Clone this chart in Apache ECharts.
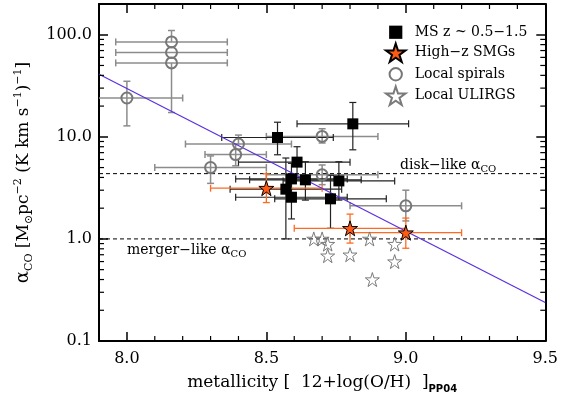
<!DOCTYPE html>
<html>
<head>
<meta charset="utf-8">
<script src="https://cdn.jsdelivr.net/npm/echarts@6/dist/echarts.min.js"></script>
<style>
html,body{margin:0;padding:0;background:#fff;}
#chart{width:561px;height:400px;}
</style>
</head>
<body>
<div id="chart"></div>
<script>
// ---- data ----
const msX   = [8.54, 8.81, 8.61, 8.59, 8.64, 8.76, 8.57, 8.59, 8.73];
const msY   = [9.85, 13.4, 5.65, 3.87, 3.79, 3.70, 3.07, 2.56, 2.47];
const msXlo = [8.34, 8.61, 8.40, 8.39, 8.44, 8.56, 8.37, 8.39, 8.53];
const msXhi = [8.74, 9.01, 8.80, 8.79, 8.84, 8.96, 8.77, 8.79, 8.93];
const msYlo = [6.67, 7.46, 4.0, 2.7, 2.4, 2.4, 1.0, 1.57, 1.27];
const msYhi = [13.9, 21.7, 8.0, 5.5, 5.7, 5.7, 6.2, 3.7, 4.2];

const smgX   = [8.50, 8.80, 9.00];
const smgY   = [3.14, 1.27, 1.15];
const smgXlo = [8.30, 8.60, 8.80];
const smgXhi = [8.70, 9.00, 9.20];
const smgYlo = [2.27, 0.91, 0.81];
const smgYhi = [4.34, 1.75, 1.60];

const spX   = [8.00, 8.16, 8.16, 8.16, 8.40, 8.39, 8.30, 8.70, 8.70, 9.00];
const spY   = [24.0, 85, 67, 53, 8.5, 6.7, 5.0, 10.1, 4.24, 2.11];
const spXlo = [7.80, 7.96, 7.96, 7.96, 8.21, 8.28, 8.10, 8.50, 8.50, 8.80];
const spXhi = [8.20, 8.36, 8.36, 8.36, 8.59, 8.50, 8.50, 8.90, 8.90, 9.20];
const spYlo = [12.8, 85, 67, 17.3, 8.5, 5.2, 3.5, 8.7, 3.4, 1.5];
const spYhi = [35.0, 110, 67, 53, 10.4, 8.5, 6.5, 12.0, 5.3, 3.0];

const ulX = [8.67, 8.70, 8.72, 8.72, 8.80, 8.87, 8.96, 8.96, 8.88];
const ulY = [1.0, 1.0, 0.89, 0.685, 0.70, 1.0, 0.89, 0.60, 0.40];

const fitX = [7.9, 9.5];
const fitY = [41, 0.238];

const diskAlpha = 4.36;
const mergerAlpha = 1.0;

const xRange = [7.9, 9.5];
const yRange = [0.1, 200];
const xMajor = [8.0, 8.5, 9.0, 9.5];
const xMinor = [8.1, 8.2, 8.3, 8.4, 8.6, 8.7, 8.8, 8.9, 9.1, 9.2, 9.3, 9.4];
const yMinor = [0.2,0.3,0.4,0.5,0.6,0.7,0.8,0.9, 2,3,4,5,6,7,8,9, 20,30,40,50,60,70,80,90];

const seriesNames = ['MS z ~ 0.5\u22121.5', 'High\u2212z SMGs', 'Local spirals', 'Local ULIRGS'];

// ---- chart ----
const FONT = 'DejaVu Serif';
const STAR = 'path://M50,0 L61.2,34.5 L97.6,34.5 L68.2,55.9 L79.4,90.5 L50,69.1 L20.6,90.5 L31.8,55.9 L2.4,34.5 L38.8,34.5 Z';
const SQUARE_ICON = 'path://M-2,-2M12,12M0,0L10,0L10,10L0,10Z';
const CIRCLE_ICON = 'path://M-2.5,-2.5M12.5,12.5M10,5A5,5,0,1,1,0,5A5,5,0,1,1,10,5Z';

function zipErr(x, y, xlo, xhi, ylo, yhi) {
  return x.map((v, i) => [v, y[i], xlo[i], xhi[i], ylo[i], yhi[i]]);
}
function zip(x, y) { return x.map((v, i) => [v, y[i]]); }

function errRender(color, width) {
  return function (params, api) {
    const x = api.value(0), y = api.value(1);
    const xlo = api.value(2), xhi = api.value(3), ylo = api.value(4), yhi = api.value(5);
    const a = api.coord([xlo, y]), b = api.coord([xhi, y]);
    const lo = api.coord([x, ylo]), hi = api.coord([x, yhi]);
    const cap = 3.5;
    const st = { stroke: color, lineWidth: width };
    const ch = [];
    ch.push({ type: 'line', shape: { x1: a[0], y1: a[1], x2: b[0], y2: b[1] }, style: st });
    ch.push({ type: 'line', shape: { x1: a[0], y1: a[1] - cap, x2: a[0], y2: a[1] + cap }, style: st });
    ch.push({ type: 'line', shape: { x1: b[0], y1: b[1] - cap, x2: b[0], y2: b[1] + cap }, style: st });
    if (ylo !== y || yhi !== y) {
      ch.push({ type: 'line', shape: { x1: lo[0], y1: lo[1], x2: hi[0], y2: hi[1] }, style: st });
      if (ylo !== y) ch.push({ type: 'line', shape: { x1: lo[0] - cap, y1: lo[1], x2: lo[0] + cap, y2: lo[1] }, style: st });
      if (yhi !== y) ch.push({ type: 'line', shape: { x1: hi[0] - cap, y1: hi[1], x2: hi[0] + cap, y2: hi[1] }, style: st });
    }
    return { type: 'group', children: ch };
  };
}

const chart = echarts.init(document.getElementById('chart'), null, { renderer: 'canvas' });

const axisLineStyle = { color: '#000', width: 2 };
const tickStyle = { color: '#000', width: 1.5 };

const option = {
  animation: false,
  backgroundColor: '#fff',
  textStyle: { fontFamily: FONT },
  grid: { left: 99, right: 15, top: 4, bottom: 59, containLabel: false },
  legend: {
    orient: 'vertical', left: 380, top: 18, itemGap: 1, itemWidth: 20, itemHeight: 18.5,
    textStyle: { fontFamily: FONT, fontSize: 14, color: '#000', padding: [0, 0, 0, 4] },
    data: [
      { name: seriesNames[0], icon: SQUARE_ICON },
      { name: seriesNames[1], icon: STAR },
      { name: seriesNames[2], icon: CIRCLE_ICON },
      { name: seriesNames[3], icon: STAR }
    ]
  },
  xAxis: [
    {
      type: 'value', min: xRange[0], max: xRange[1], position: 'bottom',
      axisLine: { show: true, onZero: false, lineStyle: axisLineStyle },
      axisTick: { show: true, inside: true, length: 9, customValues: xMajor, lineStyle: tickStyle },
      axisLabel: { customValues: xMajor, formatter: v => v.toFixed(1), fontFamily: FONT, fontSize: 16, color: '#000', margin: 10 },
      splitLine: { show: false },
      name: 'metallicity [  12+log(O/H)  ]{s|PP04}',
      nameLocation: 'middle', nameGap: 33,
      nameTextStyle: {
        fontFamily: FONT, fontSize: 17, color: '#000',
        rich: { s: { fontFamily: 'DejaVu Sans', fontSize: 10, fontWeight: 'bold', verticalAlign: 'bottom', lineHeight: 10, padding: [0, 0, -3, 0] } }
      }
    },
    {
      type: 'value', min: xRange[0], max: xRange[1], position: 'top',
      axisLine: { show: true, onZero: false, lineStyle: axisLineStyle },
      axisTick: { show: true, inside: true, length: 9, customValues: xMajor, lineStyle: tickStyle },
      axisLabel: { show: false },
      splitLine: { show: false }
    }
  ],
  yAxis: [
    {
      type: 'log', logBase: 10, min: yRange[0], max: yRange[1], position: 'left',
      axisLine: { show: true, onZero: false, lineStyle: axisLineStyle },
      axisTick: { show: true, inside: true, length: 9, lineStyle: tickStyle },
      axisLabel: { formatter: v => Number(v).toFixed(1), fontFamily: FONT, fontSize: 16, color: '#000', margin: 7, showMaxLabel: false },
      splitLine: { show: false },
      name: '{a|\u03b1}{s|CO} [M{s|\u2299}pc{p|\u22122} (K km s{p|\u22121}){p|\u22121}]',
      nameLocation: 'middle', nameGap: 57, nameRotate: 90,
      nameTextStyle: {
        fontFamily: FONT, fontSize: 17, color: '#000', lineHeight: 24,
        rich: {
          a: { fontFamily: FONT, fontSize: 18, lineHeight: 24 },
          s: { fontFamily: FONT, fontSize: 11, verticalAlign: 'bottom', lineHeight: 11, padding: [0, 0, 1, 0] },
          p: { fontFamily: FONT, fontSize: 11, verticalAlign: 'top', lineHeight: 11, padding: [1, 0, 0, 0] }
        }
      }
    },
    {
      type: 'log', logBase: 10, min: yRange[0], max: yRange[1], position: 'right',
      axisLine: { show: true, onZero: false, lineStyle: axisLineStyle },
      axisTick: { show: true, inside: true, length: 9, lineStyle: tickStyle },
      axisLabel: { show: false },
      splitLine: { show: false }
    }
  ],
  graphic: [
    {
      type: 'text', left: 400, top: 158, z: 100,
      style: {
        text: 'disk\u2212like \u03b1{s|CO}', fontFamily: FONT, fontSize: 14, fill: '#000',
        rich: { s: { fontFamily: FONT, fontSize: 10, verticalAlign: 'bottom', lineHeight: 10, padding: [0, 0, -2, 0] } }
      }
    },
    {
      type: 'text', left: 127, top: 243, z: 100,
      style: {
        text: 'merger\u2212like \u03b1{s|CO}', fontFamily: FONT, fontSize: 14, fill: '#000',
        rich: { s: { fontFamily: FONT, fontSize: 10, verticalAlign: 'bottom', lineHeight: 10, padding: [0, 0, -2, 0] } }
      }
    }
  ],
  series: [
    // minor ticks (x)
    {
      type: 'custom', xAxisIndex: 0, yAxisIndex: 0, silent: true, clip: false, z: 20,
      data: xMinor.map(v => [v, 1]),
      renderItem: function (params, api) {
        const cs = params.coordSys;
        const px = api.coord([api.value(0), 1])[0];
        const st = { stroke: '#000', lineWidth: 1.2 };
        return { type: 'group', children: [
          { type: 'line', shape: { x1: px, y1: cs.y + cs.height, x2: px, y2: cs.y + cs.height - 5 }, style: st },
          { type: 'line', shape: { x1: px, y1: cs.y, x2: px, y2: cs.y + 5 }, style: st }
        ] };
      }
    },
    // minor ticks (y)
    {
      type: 'custom', xAxisIndex: 0, yAxisIndex: 0, silent: true, clip: false, z: 20,
      data: yMinor.map(v => [8.0, v]),
      renderItem: function (params, api) {
        const cs = params.coordSys;
        const py = api.coord([8.0, api.value(1)])[1];
        const st = { stroke: '#000', lineWidth: 1.2 };
        return { type: 'group', children: [
          { type: 'line', shape: { x1: cs.x, y1: py, x2: cs.x + 5, y2: py }, style: st },
          { type: 'line', shape: { x1: cs.x + cs.width - 5, y1: py, x2: cs.x + cs.width, y2: py }, style: st }
        ] };
      }
    },
    // dashed reference lines
    {
      type: 'line', silent: true, symbol: 'none', z: 3,
      data: zip(xRange, [diskAlpha, diskAlpha]),
      lineStyle: { color: '#000', width: 1, type: [4, 3] }
    },
    {
      type: 'line', silent: true, symbol: 'none', z: 3,
      data: zip(xRange, [mergerAlpha, mergerAlpha]),
      lineStyle: { color: '#000', width: 1, type: [4, 3] }
    },
    // error bars
    {
      type: 'custom', silent: true, clip: true, z: 4,
      data: zipErr(spX, spY, spXlo, spXhi, spYlo, spYhi),
      renderItem: errRender('#8c8c8c', 1.5)
    },
    {
      type: 'custom', silent: true, clip: true, z: 5,
      data: zipErr(msX, msY, msXlo, msXhi, msYlo, msYhi),
      renderItem: errRender('#222', 1.2)
    },
    {
      type: 'custom', silent: true, clip: true, z: 6,
      data: zipErr(smgX, smgY, smgXlo, smgXhi, smgYlo, smgYhi),
      renderItem: errRender('#ff6a22', 1.3)
    },
    // fit line
    {
      type: 'line', silent: true, symbol: 'none', z: 7,
      data: zip(fitX, fitY),
      lineStyle: { color: '#5b2fe0', width: 1.2 }
    },
    // symbols
    {
      name: seriesNames[0], type: 'scatter', z: 9,
      symbol: 'rect', symbolSize: 11,
      itemStyle: { color: '#000', borderColor: '#000', borderWidth: 0, opacity: 1 },
      data: zip(msX, msY)
    },
    {
      name: seriesNames[1], type: 'scatter', z: 10,
      symbol: STAR, symbolSize: 15,
      itemStyle: { color: '#ff5a14', borderColor: '#000', borderWidth: 1, opacity: 1 },
      data: zip(smgX, smgY)
    },
    {
      name: seriesNames[2], type: 'scatter', z: 8,
      symbol: 'circle', symbolSize: 11,
      itemStyle: { color: 'rgba(255,255,255,0)', borderColor: '#777', borderWidth: 2, opacity: 1 },
      data: zip(spX, spY)
    },
    {
      name: seriesNames[3], type: 'scatter', z: 8,
      symbol: STAR, symbolSize: 14,
      itemStyle: { color: 'rgba(255,255,255,0)', borderColor: '#7a7a7a', borderWidth: 1, opacity: 1 },
      data: zip(ulX, ulY)
    }
  ]
};

chart.setOption(option);
</script>
</body>
</html>
